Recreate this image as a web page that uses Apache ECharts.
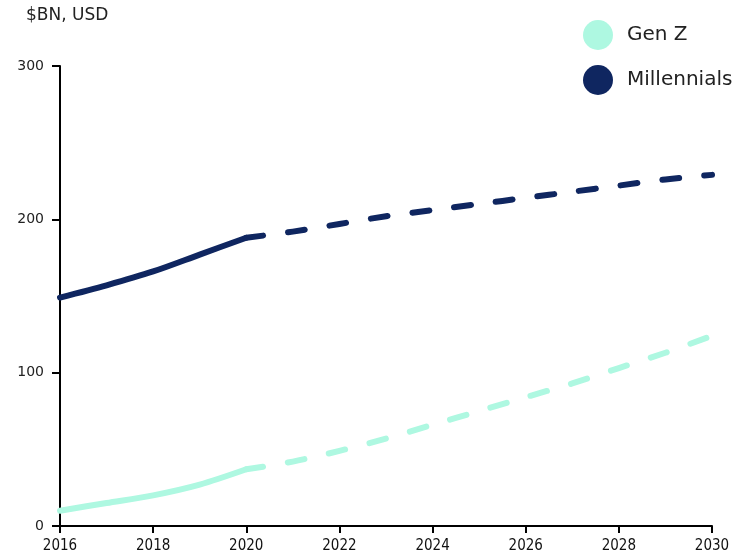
<!DOCTYPE html>
<html>
<head>
<meta charset="utf-8">
<script src="https://cdn.jsdelivr.net/npm/echarts@6/dist/echarts.min.js"></script>
<style>
html, body { margin: 0; padding: 0; background: #fff; }
#main { width: 753px; height: 555px; }
</style>
</head>
<body>
<div id="main"></div>
<script>
var years = [2016, 2017, 2018, 2019, 2020, 2021, 2022, 2023, 2024, 2025, 2026, 2027, 2028, 2029, 2030];
var genZ = [10, 15, 20, 27, 37, 42, 49, 57, 66, 75, 84, 93, 103, 113, 124];
var millennials = [149, 157, 166, 177, 188, 192, 197, 202, 206, 210, 214, 218, 222, 226, 229];
var lastActual = 2020;
var yTicks = [0, 100, 200, 300];

var colGenZ = '#aef8e1';
var colMil = '#0f2660';

function pairs(vals, from, to) {
  var out = [];
  for (var i = 0; i < years.length; i++) {
    if (years[i] >= from && years[i] <= to) out.push([years[i], vals[i]]);
  }
  return out;
}

function lineSeries(name, color, data, dashed) {
  return {
    name: name,
    type: 'line',
    data: data,
    smooth: 0.3,
    showSymbol: false,
    symbol: 'none',
    lineStyle: {
      color: color,
      width: 6,
      type: dashed ? [17, 25] : 'solid',
      cap: 'round',
      join: 'round'
    },
    itemStyle: { color: color },
    emphasis: { disabled: true }
  };
}

var chart = echarts.init(document.getElementById('main'));
chart.setOption({
  animation: false,
  title: {
    text: '$BN, USD',
    left: 21,
    top: 2,
    textStyle: { fontFamily: 'DejaVu Sans', fontSize: 17, fontWeight: 'normal', color: '#222' }
  },
  legend: {
    orient: 'vertical',
    left: 583,
    top: 20,
    padding: 0,
    itemWidth: 30,
    itemHeight: 30,
    itemGap: 15,
    icon: 'circle',
    data: ['Gen Z', 'Millennials'],
    textStyle: { fontFamily: 'DejaVu Sans', fontSize: 20, color: '#222', padding: [0, 0, 0, 9] }
  },
  grid: { left: 60, right: 41, top: 66, bottom: 29 },
  xAxis: {
    type: 'value',
    min: 2016,
    max: 2030,
    interval: 2,
    axisLine: { show: true, lineStyle: { color: '#000', width: 2 } },
    axisTick: { show: true, length: 7, lineStyle: { color: '#000', width: 2 } },
    axisLabel: {
      color: '#111', fontSize: 15, fontFamily: 'DejaVu Sans Condensed', margin: 13,
      formatter: function (v) { return String(v); }
    },
    splitLine: { show: false }
  },
  yAxis: {
    type: 'value',
    min: yTicks[0],
    max: yTicks[yTicks.length - 1],
    interval: 100,
    axisLine: { show: true, lineStyle: { color: '#000', width: 2 } },
    axisTick: { show: true, length: 8, lineStyle: { color: '#000', width: 2 } },
    axisLabel: { color: '#222', fontSize: 14, fontFamily: 'DejaVu Sans', margin: 16 },
    splitLine: { show: false }
  },
  series: [
    lineSeries('Gen Z', colGenZ, pairs(genZ, 2016, lastActual), false),
    lineSeries('Gen Z', colGenZ, pairs(genZ, lastActual, 2030), true),
    lineSeries('Millennials', colMil, pairs(millennials, 2016, lastActual), false),
    lineSeries('Millennials', colMil, pairs(millennials, lastActual, 2030), true)
  ]
});
</script>
</body>
</html>
